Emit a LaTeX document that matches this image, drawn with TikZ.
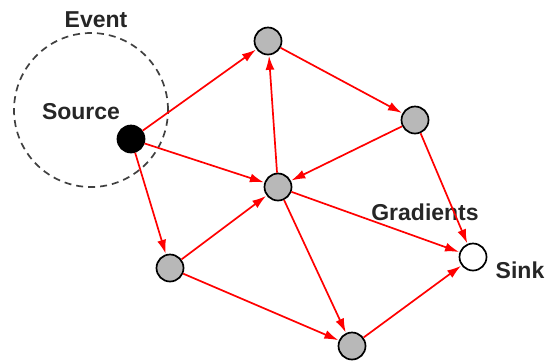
\documentclass[tikz,border=0pt]{standalone}
\usepackage{fontspec}
\setmainfont{Liberation Sans}
\usetikzlibrary{arrows.meta}
\begin{document}
\begin{tikzpicture}[x=1pt,y=-1pt,
  nd/.style={circle,draw=black,line width=1.7pt,fill=black!28,minimum size=27pt,inner sep=0pt},
  edge/.style={draw=red,line width=1.7pt,-{Latex[length=14pt,width=9pt]},shorten >=0.5pt},
  lbl/.style={font=\fontsize{23}{25}\selectfont\bfseries,inner sep=0pt,text=black!85}]
\useasboundingbox (0,0) rectangle (545,360);
\node[circle,draw=black!75,dashed,dash pattern=on 7pt off 5pt,line width=1.7pt,minimum size=154pt,inner sep=0pt] (ev) at (91,110) {};
\node[nd,fill=black] (s) at (131,139) {};
\node[nd] (a) at (268,41) {};
\node[nd] (b) at (415,120) {};
\node[nd] (c) at (278,187) {};
\node[nd] (d) at (170,268) {};
\node[nd] (e) at (352,346) {};
\node[nd,fill=white] (k) at (473,257) {};
\node[lbl] (tev) at (96,20) {Event};
\node[lbl] (tso) at (81,112) {Source};
\node[lbl] (tgr) at (425,212) {Gradients};
\node[lbl] (tsi) at (520,270) {Sink};
\draw[edge] (s) -- (a);
\draw[edge] (s) -- (c);
\draw[edge] (s) -- (d);
\draw[edge] (a) -- (b);
\draw[edge] (b) -- (c);
\draw[edge] (c) -- (a);
\draw[edge] (b) -- (k);
\draw[edge] (c) -- (k);
\draw[edge] (c) -- (e);
\draw[edge] (d) -- (c);
\draw[edge] (d) -- (e);
\draw[edge] (e) -- (k);
\end{tikzpicture}
\end{document}
